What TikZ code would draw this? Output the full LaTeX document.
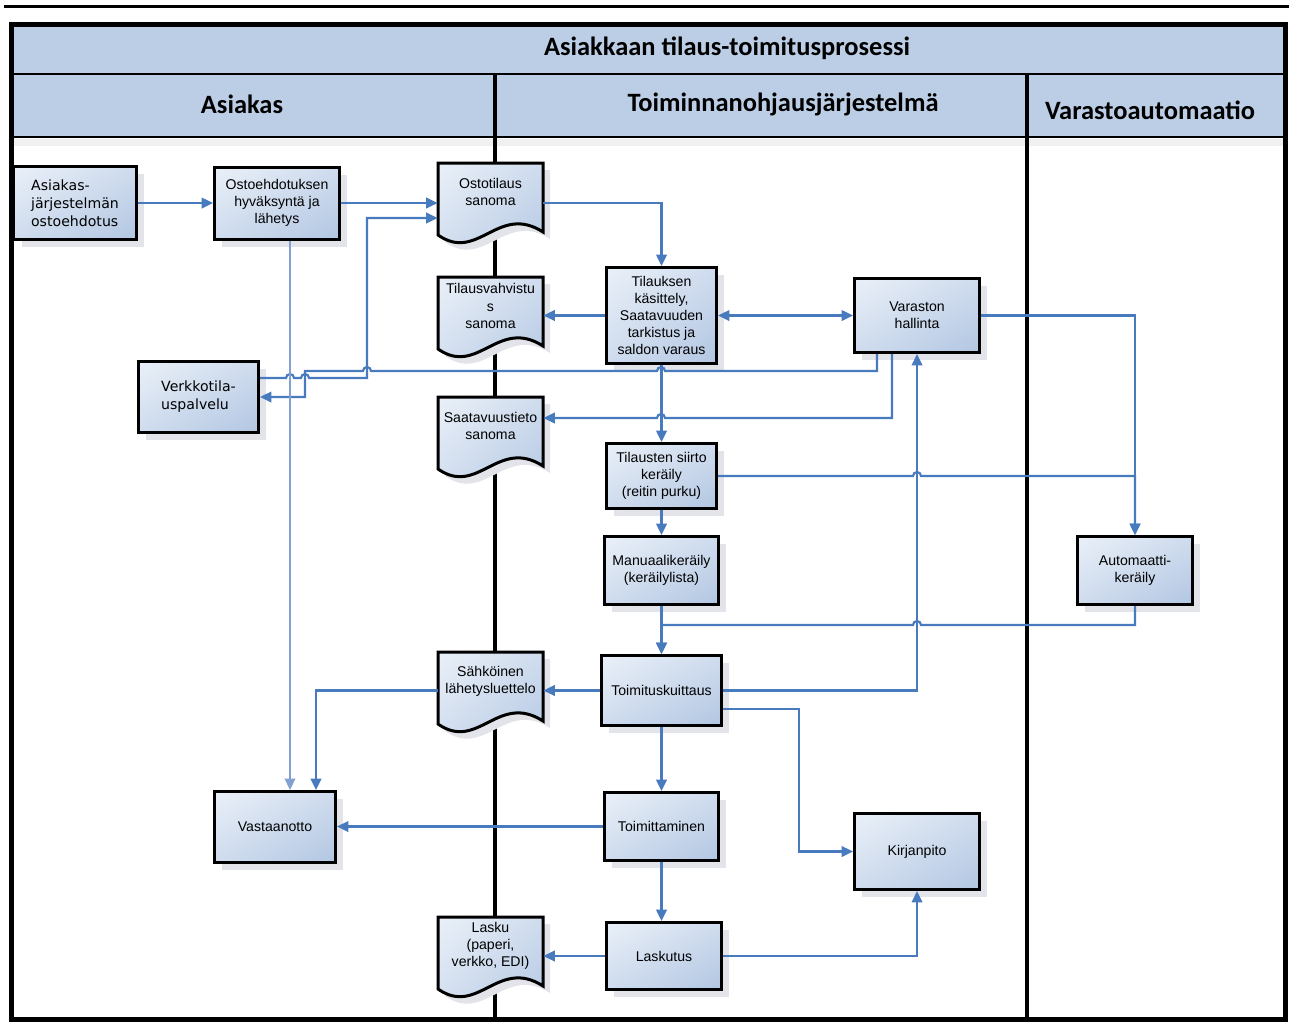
\documentclass[tikz,border=0pt]{standalone}
\usepackage{fontspec}
\setmainfont{Liberation Sans}
\newfontfamily\headfont{Carlito}
\newfontfamily\verdfont{DejaVu Sans}
\usetikzlibrary{arrows.meta,shadows,shadings}

\definecolor{hdrblue}{RGB}{188,206,229}
\definecolor{boxlight}{RGB}{234,240,248}
\definecolor{boxmid}{RGB}{207,220,238}
\definecolor{boxdark}{RGB}{178,198,226}
\definecolor{flowblue}{RGB}{72,122,190}
\definecolor{paleblue}{RGB}{130,160,208}
\definecolor{shadowgray}{RGB}{226,228,233}

% pixel lengths of the original drawing
\newcommand\px[1]{#1*0.567pt}

% one document symbol: name, centre x, top y, text
\newcommand\docnode[4]{%
  \fill[shadowgray] (#2-45,#3+7) -- (#2+60,#3+7) -- (#2+60,#3+76)
    .. controls (#2+15,#3+47) and (#2-5,#3+107) .. (#2-45,#3+79) -- cycle;
  \path[docline] (#2-52,#3) -- (#2+53,#3) -- (#2+53,#3+69)
    .. controls (#2+8,#3+40) and (#2-12,#3+100) .. (#2-52,#3+72) -- cycle;
  \node[doctext] (#1) at (#2+0.5,#3+29) {#4};
}

\tikzset{
  procbox/.style={draw=black, line width=1.7pt, shade, upper left=boxlight, upper right=boxmid,
    lower left=boxmid, lower right=boxdark, align=center, inner sep=1pt,
    font=\fontsize{8}{9.7}\selectfont,
    drop shadow={shadow xshift=4.5pt, shadow yshift=-4.5pt, fill=shadowgray, opacity=1}},
  verdbox/.style={procbox, align=left, font=\verdfont\fontsize{8}{10.2}\selectfont},
  docline/.style={draw=black, line width=1.7pt, shade, upper left=boxlight, upper right=boxmid,
    lower left=boxmid, lower right=boxdark},
  doctext/.style={align=center, inner sep=0pt, minimum width=\px{105}, minimum height=\px{58},
    font=\fontsize{8}{9.7}\selectfont},
  header/.style={font=\headfont\bfseries\fontsize{15}{18}\selectfont, inner sep=0pt},
  lane/.style={line width=2pt, black},
  flow/.style={draw=flowblue, line width=1.2pt, -{Triangle[length=6.5pt,width=6pt]}},
  paleflow/.style={draw=paleblue, line width=0.9pt, -{Triangle[length=6.5pt,width=6pt]}},
}

\begin{document}
\begin{tikzpicture}[x=0.567pt, y=-0.567pt]
\useasboundingbox (0,0) rectangle (1289,1023);

% swimlane frame
\draw[line width=1.7pt] (4,6) -- (1289,6);
\fill[hdrblue] (12,24) rectangle (1285,137);
\fill[black!6] (12,139) rectangle (1285,146);
\draw[line width=1.2pt] (12,74) -- (1285,74);
\draw[line width=1.2pt] (12,137) -- (1285,137);
\draw[lane] (495,74) -- (495,1019);
\draw[lane] (1027,74) -- (1027,1019);
\draw[line width=2.8pt] (11.5,24.5) rectangle (1285.5,1019.5);

\node[header] (title) at (727,48) {Asiakkaan tilaus-toimitusprosessi};
\node[header] (laneA) at (242,104) {Asiakas};
\node[header] (laneB) at (783,104) {Toiminnanohjausjärjestelmä};
\node[header] (laneC) at (1150,110) {Varastoautomaatio};

% process steps
\node[verdbox, minimum width=\px{122}, minimum height=\px{73}] (ehdotus) at (75,203) {Asiakas-\\järjestelmän\\ostoehdotus};
\node[procbox, minimum width=\px{125}, minimum height=\px{72}] (hyvaksynta) at (277,203) {Ostoehdotuksen\\hyväksyntä ja\\lähetys};
\node[procbox, minimum width=\px{110}, minimum height=\px{96}] (kasittely) at (661.5,315.5) {Tilauksen\\käsittely,\\Saatavuuden\\tarkistus ja\\saldon varaus};
\node[procbox, minimum width=\px{125}, minimum height=\px{74}] (varaston) at (917,315.5) {Varaston\\hallinta};
\node[verdbox, minimum width=\px{120}, minimum height=\px{71}] (verkko) at (198.5,397) {Verkkotila-\\uspalvelu};
\node[procbox, minimum width=\px{110}, minimum height=\px{65}] (siirto) at (661.5,476) {Tilausten siirto\\keräily\\(reitin purku)};
\node[procbox, minimum width=\px{114}, minimum height=\px{68}] (manuaali) at (661.5,570.5) {Manuaalikeräily\\(keräilylista)};
\node[procbox, minimum width=\px{115}, minimum height=\px{68}] (automaatti) at (1135,570.5) {Automaatti-\\keräily};
\node[procbox, minimum width=\px{120}, minimum height=\px{70}] (kuittaus) at (661.5,690.5) {Toimituskuittaus};
\node[procbox, minimum width=\px{121}, minimum height=\px{71}] (vastaanotto) at (275,827) {Vastaanotto};
\node[procbox, minimum width=\px{114}, minimum height=\px{68}] (toimittaminen) at (661.5,826.5) {Toimittaminen};
\node[procbox, minimum width=\px{125}, minimum height=\px{76}] (kirjanpito) at (917,851.5) {Kirjanpito};
\node[procbox, minimum width=\px{115}, minimum height=\px{67}] (laskutus) at (664,956) {Laskutus};

% messages
\docnode{ostotilaus}{490}{163}{Ostotilaus\\sanoma}
\docnode{vahvistus}{490}{277}{Tilausvahvistu\\s\\sanoma}
\docnode{saatavuus}{490}{397}{Saatavuustieto\\sanoma}
\docnode{sahkoinen}{490}{652}{Sähköinen\\lähetysluettelo}
\docnode{lasku}{490}{917}{Lasku\\(paperi,\\verkko, EDI)}

% flows
\draw[flow] (ehdotus) -- (hyvaksynta);
\draw[flow] (hyvaksynta) -- (ostotilaus.west |- hyvaksynta);
\draw[flow] (ostotilaus.east |- hyvaksynta) -| (kasittely.north);
\draw[flow] (kasittely) -- (vahvistus.east |- kasittely);
\draw[flow, {Triangle[length=6.5pt,width=6pt]}-{Triangle[length=6.5pt,width=6pt]}] (kasittely) -- (varaston);
\draw[flow] (varaston.east) -| (automaatti.north);
\draw[flow] (varaston.south -| 877,0) -- (877,371) -- (665,371) arc[start angle=0, end angle=180, radius=2.27pt]
  -- (371,371) arc[start angle=0, end angle=180, radius=2.27pt] -- (305,371) -- (305,397) -- (verkko.east);
\draw[flow] (verkko.east |- 0,378) -- (286,378) arc[start angle=180, end angle=0, radius=2.27pt]
  -- (301,378) arc[start angle=180, end angle=0, radius=2.27pt] -- (367,378) -- (367,218) -- (ostotilaus.west |- 0,218);
\draw[flow] (varaston.south -| 892,0) -- (892,418) -- (665,418) arc[start angle=0, end angle=180, radius=2.27pt]
  -- (saatavuus.east |- 0,418);
\draw[flow] (kasittely) -- (siirto);
\draw[flow] (siirto.east) -- (913,476) arc[start angle=180, end angle=0, radius=2.27pt] -- (1135,476) -- (automaatti.north);
\draw[flow] (siirto) -- (manuaali);
\draw[flow] (manuaali) -- (kuittaus);
\draw[flow] (automaatti.south) -- (1135,625) -- (921,625) arc[start angle=0, end angle=180, radius=2.27pt]
  -- (661.5,625) -- (kuittaus.north);
\draw[flow] (kuittaus.east) -- (917,690.5) -- (varaston.south);
\draw[flow] (kuittaus) -- (sahkoinen.east |- kuittaus);
\draw[flow] (sahkoinen.west |- kuittaus) -| ([xshift=\px{41}]vastaanotto.north);
\draw[flow] (kuittaus.east |- 0,709) -- (799,709) |- (kirjanpito.west);
\draw[flow] (kuittaus) -- (toimittaminen);
\draw[flow] (toimittaminen.west) -- (vastaanotto.east |- toimittaminen);
\draw[flow] (toimittaminen.south) -- (toimittaminen.south |- laskutus.north);
\draw[flow] (laskutus) -- (lasku.east |- laskutus);
\draw[flow] (laskutus.east) -| (kirjanpito.south);
\draw[paleflow] (hyvaksynta.south -| 290,0) -- (vastaanotto.north -| 290,0);
\end{tikzpicture}
\end{document}
